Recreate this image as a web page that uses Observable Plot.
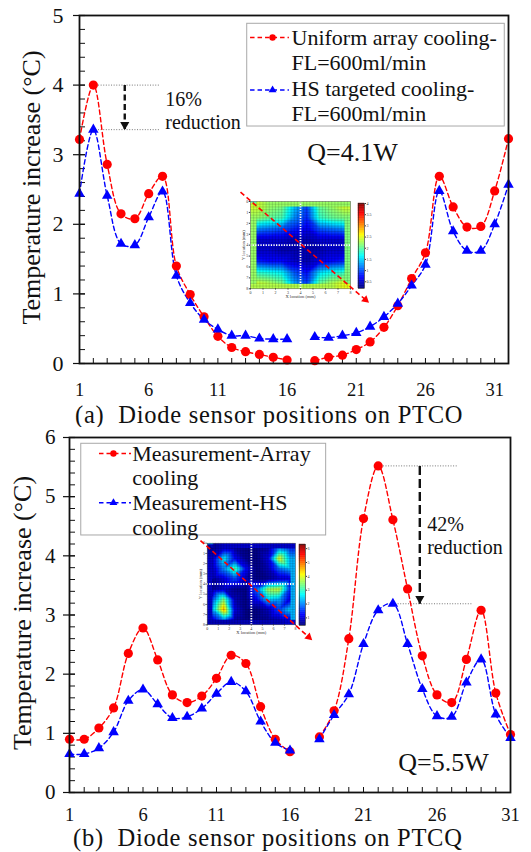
<!DOCTYPE html>
<html>
<head>
<meta charset="utf-8">
<script src="https://cdn.jsdelivr.net/npm/d3@7"></script>
<script src="https://cdn.jsdelivr.net/npm/@observablehq/plot@0.6"></script>
<style>
  html, body { margin: 0; padding: 0; background: #fff; }
  #page { position: relative; width: 531px; height: 852px; overflow: hidden;
          font-family: "Liberation Serif", "Times New Roman", serif; color: #111; }
  .caption { position: absolute; height: 20px; line-height: 20px; font-size: 24.5px;
             letter-spacing: 0.75px; white-space: pre; }
</style>
</head>
<body>
<div id="page"></div>
<script>
// ---------- panel (a): PTCO, Q = 4.1 W ----------
const positionsA = [1, 2, 3, 4, 5, 6, 7, 8, 9, 10, 11, 12, 13, 14, 15, 16,
                    17, 18, 19, 20, 21, 22, 23, 24, 25, 26, 27, 28, 29, 30, 31, 32];
const uniformA  = [3.22, 4.00, 2.86, 2.15, 2.08, 2.44, 2.69, 1.40, 0.99, 0.67, 0.39, 0.23, 0.17, 0.13, 0.09, 0.05,
                   null, 0.04, 0.09, 0.12, 0.20, 0.31, 0.52, 0.83, 1.22, 1.59, 2.69, 2.25, 1.96, 1.97, 2.48, 3.23];
const targetedA = [2.44, 3.36, 2.41, 1.72, 1.70, 2.10, 2.47, 1.26, 0.87, 0.63, 0.49, 0.40, 0.40, 0.36, 0.35, 0.35,
                   null, 0.38, 0.37, 0.40, 0.44, 0.53, 0.67, 0.86, 1.12, 1.42, 2.48, 1.90, 1.62, 1.62, 2.00, 2.57];
const xTickLabelsA = [1, 6, 11, 16, 21, 26, 31];
const yTickLabelsA = [0, 1, 2, 3, 4, 5];
const legendLabelsA = ["Uniform array cooling-", "FL=600ml/min", "HS targeted cooling-", "FL=600ml/min"];
const captionA = "(a)  Diode sensor positions on PTCO";

// ---------- panel (b): PTCQ, Q = 5.5 W ----------
const positionsB = [1, 2, 3, 4, 5, 6, 7, 8, 9, 10, 11, 12, 13, 14, 15, 16,
                    17, 18, 19, 20, 21, 22, 23, 24, 25, 26, 27, 28, 29, 30, 31];
const arrayB    = [0.90, 0.90, 1.09, 1.43, 2.35, 2.78, 2.24, 1.65, 1.52, 1.63, 1.93, 2.32, 2.18, 1.45, 0.90, 0.69,
                   null, 0.94, 1.38, 2.60, 4.63, 5.52, 4.61, 3.44, 2.31, 1.65, 1.52, 2.25, 3.08, 1.68, 0.98];
const targetedB = [0.65, 0.65, 0.75, 1.02, 1.55, 1.74, 1.49, 1.26, 1.28, 1.42, 1.67, 1.87, 1.71, 1.20, 0.84, 0.71,
                   null, 0.90, 1.31, 1.66, 2.51, 3.08, 3.19, 2.51, 1.75, 1.29, 1.28, 1.86, 2.25, 1.32, 0.92];
const xTickLabelsB = [1, 6, 11, 16, 21, 26, 31];
const yTickLabelsB = [0, 1, 2, 3, 4, 5, 6];
const legendLabelsB = ["Measurement-Array", "cooling", "Measurement-HS", "cooling"];
const captionB = "(b)  Diode sensor positions on PTCQ";

const yTitle = "Temperature increase (°C)";

// ---------- inset temperature maps (°C per 1 mm cell, rows top to bottom) ----------
const heatRowsA = [
  [2.4, 2.2, 2.1, 1.4, 0.9, 2.0, 2.2, 2.4],
  [2.2, 2.0, 1.9, 1.2, 0.8, 1.8, 2.0, 2.1],
  [1.2, 1.1, 1.0, 0.8, 0.6, 1.0, 1.1, 1.2],
  [0.5, 0.5, 0.5, 0.4, 0.4, 0.5, 0.5, 0.5],
  [0.5, 0.5, 0.4, 0.4, 0.4, 0.4, 0.5, 0.5],
  [0.8, 0.7, 0.7, 0.5, 0.4, 0.6, 0.7, 0.8],
  [1.8, 1.7, 1.6, 1.0, 0.7, 1.5, 1.7, 1.8],
  [2.4, 2.3, 2.1, 1.3, 0.9, 2.0, 2.3, 2.5]
];
const heatRowsB = [
  [0.6, 0.9, 0.7, 0.5, 0.5, 0.7, 2.0, 1.4],
  [0.9, 2.6, 1.2, 0.6, 0.5, 1.0, 4.0, 2.2],
  [0.8, 2.0, 3.2, 1.2, 0.5, 0.8, 1.8, 2.2],
  [0.6, 1.0, 1.6, 0.8, 0.5, 0.6, 0.9, 1.0],
  [0.6, 0.9, 0.6, 0.5, 1.8, 3.6, 3.8, 1.4],
  [1.6, 3.4, 0.8, 0.5, 1.2, 2.4, 2.2, 1.0],
  [2.2, 4.6, 1.0, 0.5, 0.5, 0.8, 1.6, 2.4],
  [1.0, 2.0, 0.7, 0.5, 0.5, 0.6, 0.8, 1.0]
];
const colorbarTicksA = [0.5, 1, 1.5, 2, 2.5, 3, 3.5, 4];
const colorbarTicksB = [1, 2, 3, 4, 5, 6];
const mapTicks = [0, 1, 2, 3, 4, 5, 6, 7, 8];

// ---------- styling ----------
const RED = "#ff0000", BLUE = "#0000ff", INK = "#111";
const SERIF = '"Liberation Serif", "Times New Roman", serif';
const jetColors = ["#00007f", "#0000ff", "#00ffff", "#ffff00", "#ff0000", "#7f0000"];
const jetStops = [0, 0.125, 0.375, 0.625, 0.875, 1];
const jet = (lo, hi) => ({type: "linear", domain: jetStops.map(t => lo + t * (hi - lo)), range: jetColors, clamp: true});

const page = document.getElementById("page");
function place(node, left, top) {
  node.style.position = "absolute";
  node.style.left = left + "px";
  node.style.top = top + "px";
  page.append(node);
  return node;
}

// One temperature-rise panel: two dashed series, framed axes, legend and annotations.
function panel(cfg) {
  const fw = cfg.width - cfg.marginLeft - cfg.marginRight;
  const fh = cfg.height - cfg.marginTop - cfg.marginBottom;
  const rows = cfg.positions.map((p, i) => ({p, a: cfg.first[i], b: cfg.second[i]}));
  const iA = d3.maxIndex(cfg.first), iB = d3.maxIndex(cfg.second);
  const guides = [
    {x1: cfg.positions[iA], x2: cfg.guideEnds[0], y: cfg.first[iA]},
    {x1: cfg.positions[iB], x2: cfg.guideEnds[1], y: cfg.second[iB]}
  ];
  const drop = [{x: cfg.dropX, y1: cfg.first[iA], y2: cfg.second[iB]}];
  const keys = [
    {y: cfg.keyY[0], fill: RED, symbol: "circle", r: 4.6},
    {y: cfg.keyY[1], fill: BLUE, symbol: "triangle", r: 3.9}
  ];
  const legendText = cfg.legendLabels.map((t, i) => ({t, y: cfg.legendTextY[i]}));
  const dash = {strokeWidth: 1.4, strokeDasharray: "4.5,3"};

  return Plot.plot({
    width: cfg.width, height: cfg.height,
    marginLeft: cfg.marginLeft, marginRight: cfg.marginRight,
    marginTop: cfg.marginTop, marginBottom: cfg.marginBottom,
    x: {domain: cfg.xDomain},
    y: {domain: cfg.yDomain},
    style: {fontFamily: SERIF, color: INK, background: "white", overflow: "visible"},
    marks: [
      // tick marks: minor y inward, major y across the axis, every sensor position inward on x
      Plot.tickY(cfg.yMinor, {y: d => d, insetRight: fw - 6, stroke: INK, strokeWidth: 1}),
      Plot.tickY(cfg.yTicks, {y: d => d, insetLeft: -6, insetRight: fw - 6, stroke: INK, strokeWidth: 1.2}),
      Plot.tickX(cfg.positions, {x: d => d, insetTop: fh - 5, stroke: INK, strokeWidth: 1}),
      Plot.axisY({ticks: cfg.yTicks, tickSize: 0, tickPadding: cfg.yPad, fontSize: cfg.yFont,
                  tickFormat: d => String(d), label: null}),
      Plot.axisX({ticks: cfg.xTicks, tickSize: 0, tickPadding: cfg.xPad, fontSize: 18.5,
                  tickFormat: d => String(d), label: null}),
      Plot.text([yTitle], {text: d => d, frameAnchor: "left", textAnchor: "middle", rotate: -90,
                           dx: cfg.titleDx, dy: cfg.titleDy, fontSize: 26, fill: INK}),

      // peak-reduction annotation
      Plot.ruleY(guides, {y: "y", x1: "x1", x2: "x2", stroke: "#777", strokeWidth: 1, strokeDasharray: "1,1.6"}),
      Plot.link(drop, {x1: "x", x2: "x", y1: "y1", y2: "y2", stroke: INK, strokeWidth: 2.4,
                       strokeDasharray: cfg.dropDash}),
      Plot.dot(drop, {x: "x", y: "y2", symbol: "triangle", rotate: 180, r: 3.4, dy: -5, fill: INK}),
      Plot.text([cfg.note], {x: "x", y: "y", text: "t", textAnchor: "start", fontSize: 20, lineHeight: 1.15, fill: INK}),
      Plot.text([cfg.power], {x: "x", y: "y", text: "t", fontSize: 26, fill: INK}),

      // measured series
      Plot.line(rows, {x: "p", y: "a", stroke: RED, curve: "catmull-rom", ...dash}),
      Plot.line(rows, {x: "p", y: "b", stroke: BLUE, curve: "catmull-rom", ...dash}),
      Plot.dot(rows, {x: "p", y: "a", r: 4.6, fill: RED}),
      Plot.dot(rows, {x: "p", y: "b", r: 3.9, symbol: "triangle", fill: BLUE}),

      // legend
      Plot.rect([cfg.legendBox], {x1: "x1", x2: "x2", y1: "y1", y2: "y2", fill: "white", stroke: "#a8a8a8", strokeWidth: 1}),
      Plot.ruleY(keys, {y: "y", x1: cfg.keyX[0], x2: cfg.keyX[2], stroke: "fill", ...dash}),
      Plot.dot(keys, {x: cfg.keyX[1], y: "y", symbol: "symbol", r: "r", fill: "fill"}),
      Plot.text(legendText, {x: cfg.legendTextX, y: "y", text: "t", textAnchor: "start", fontSize: 22, fill: INK}),

      Plot.frame({stroke: INK, strokeWidth: 1.8})
    ]
  });
}

// Small heat map with mesh, centre cross and the diagonal sensor path.
function heatmap(grid, lo, hi, box, arrow, arrowRotate) {
  const cells = grid.flatMap((row, j) => row.map((v, i) => ({x: i + 0.5, y: j + 0.5, v})));
  const mesh = d3.range(0.25, 8, 0.25);
  return Plot.plot({
    width: box.width, height: box.height,
    marginLeft: box.ml, marginRight: box.mr, marginTop: box.mt, marginBottom: box.mb,
    x: {domain: [0, 8]},
    y: {domain: [0, 8], reverse: true},
    color: jet(lo, hi),
    style: {fontFamily: SERIF, color: "#333", background: "transparent", overflow: "visible"},
    marks: [
      Plot.raster(cells, {x: "x", y: "y", fill: "v", x1: 0, y1: 0, x2: 8, y2: 8, interpolate: "barycentric"}),
      Plot.ruleX(mesh, {x: d => d, stroke: "#000", strokeOpacity: 0.28, strokeWidth: 0.5}),
      Plot.ruleY(mesh, {y: d => d, stroke: "#000", strokeOpacity: 0.28, strokeWidth: 0.5}),
      Plot.ruleX([4], {x: d => d, stroke: "#fff", strokeWidth: 1.8, strokeDasharray: "1.3,1.3"}),
      Plot.ruleY([4], {y: d => d, stroke: "#fff", strokeWidth: 1.8, strokeDasharray: "1.3,1.3"}),
      Plot.frame({stroke: "#444", strokeWidth: 0.5}),
      Plot.axisX({ticks: mapTicks, tickSize: 1.2, tickPadding: 1, fontSize: 4, label: null}),
      Plot.axisY({ticks: mapTicks, tickSize: 1.2, tickPadding: 1, fontSize: 4, label: null}),
      Plot.text(["X location (mm)"], {text: d => d, frameAnchor: "bottom", dy: 9.5, fontSize: 4.5}),
      Plot.text(["Y location (mm)"], {text: d => d, frameAnchor: "left", textAnchor: "middle", dx: -7,
                                      rotate: -90, fontSize: 4.5}),
      Plot.link([arrow], {x1: "x1", y1: "y1", x2: "x2", y2: "y2", stroke: RED, strokeWidth: 1.6, strokeDasharray: "5,3"}),
      Plot.dot([arrow], {x: "x2", y: "y2", symbol: "triangle", r: 3, rotate: arrowRotate, fill: RED})
    ]
  });
}

function colorbar(lo, hi, ticks, height) {
  const n = 120, step = (hi - lo) / n;
  const bands = d3.range(n).map(i => lo + i * step);
  return Plot.plot({
    width: 24, height,
    marginLeft: 2, marginRight: 16, marginTop: 3, marginBottom: 3,
    x: {domain: [0, 1], axis: null},
    y: {domain: [lo, hi]},
    color: jet(lo, hi),
    style: {fontFamily: SERIF, color: "#333", background: "transparent", overflow: "visible"},
    marks: [
      Plot.rect(bands, {x1: 0, x2: 1, y1: d => d, y2: d => d + step, fill: d => d, stroke: d => d, strokeWidth: 0.4}),
      Plot.frame({stroke: "#222", strokeWidth: 0.6}),
      Plot.axisY({anchor: "right", ticks, tickSize: 1, tickPadding: 1, fontSize: 4, label: null,
                  tickFormat: d => String(d)})
    ]
  });
}

// ---------- assemble ----------
place(panel({
  width: 531, height: 399, marginLeft: 79, marginRight: 23, marginTop: 15, marginBottom: 36,
  xDomain: [1, 32], yDomain: [0, 5],
  positions: positionsA, first: uniformA, second: targetedA,
  xTicks: xTickLabelsA, yTicks: yTickLabelsA, yMinor: d3.range(0, 5.001, 0.2),
  yFont: 22, yPad: 16, xPad: 19.8, titleDx: -48, titleDy: -2,
  guideEnds: [6.85, 6.85], dropX: 4.27, dropDash: "6,3.5",
  note: {x: 7.2, y: 3.64, t: "16%\nreduction"},
  power: {x: 20.73, y: 3.03, t: "Q=4.1W"},
  legendBox: {x1: 13.12, x2: 31.73, y1: 4.881, y2: 3.405},
  keyX: [13.36, 14.95, 16.17], keyY: [4.684, 3.93],
  legendLabels: legendLabelsA, legendTextX: 16.32, legendTextY: [4.684, 4.315, 3.944, 3.588]
}), 0, 0);

const capA = document.createElement("div");
capA.className = "caption";
capA.textContent = captionA;
place(capA, 75, 404.6);

place(panel({
  width: 531, height: 397, marginLeft: 69, marginRight: 21, marginTop: 10, marginBottom: 32,
  xDomain: [1, 31], yDomain: [0, 6],
  positions: positionsB, first: arrayB, second: targetedB,
  xTicks: xTickLabelsB, yTicks: yTickLabelsB, yMinor: d3.range(0, 6.001, 0.2),
  yFont: 21, yPad: 14, xPad: 15.6, titleDx: -47, titleDy: -2,
  guideEnds: [27.46, 28.39], dropX: 24.83, dropDash: "9,4",
  note: {x: 25.33, y: 4.344, t: "42%\nreduction"},
  power: {x: 26.44, y: 0.507, t: "Q=5.5W"},
  legendBox: {x1: 1.8, x2: 18.46, y1: 5.894, y2: 4.344},
  keyX: [3.04, 3.99, 5.22], keyY: [5.73, 4.896],
  legendLabels: legendLabelsB, legendTextX: 5.27, legendTextY: [5.73, 5.312, 4.896, 4.479]
}), 0, 427);

const capB = document.createElement("div");
capB.className = "caption";
capB.textContent = captionB;
place(capB, 73, 828.4);

// insets
place(heatmap(heatRowsA, 0.2, 4,
  {width: 150, height: 120, ml: 18, mr: 32, mt: 15, mb: 17.7},
  {x1: -0.8, y1: -0.86, x2: 9.2, y2: 9.0}, 131), 232, 186);
place(colorbar(0.2, 4, colorbarTicksA, 91), 356, 200);

place(heatmap(heatRowsB, 0.45, 6.3,
  {width: 132, height: 110, ml: 20.7, mr: 23, mt: 10.7, mb: 17.7},
  {x1: -0.61, y1: -0.26, x2: 9.2, y2: 9.2}, 132), 186, 532);
place(colorbar(0.45, 6.3, colorbarTicksB, 87), 297, 541);
</script>
</body>
</html>
